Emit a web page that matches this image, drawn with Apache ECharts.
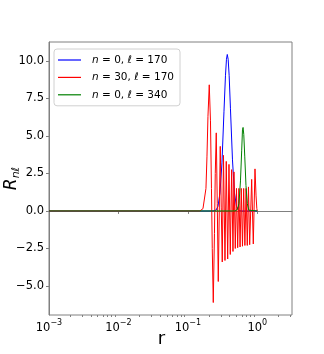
<!DOCTYPE html>
<html>
<head>
<meta charset="utf-8" />
<title>R_nl</title>
<script src="https://cdn.jsdelivr.net/npm/echarts@6/dist/echarts.min.js"></script>
<style>
  html, body { margin: 0; padding: 0; background: #fff; }
  #chart { width: 324px; height: 354px; }
</style>
</head>
<body>
<div id="chart"></div>
<script>
// quantum numbers for the three curves
var seriesN = [0, 30, 0];
var seriesL = [170, 170, 340];
var seriesColors = ['#0000ff', '#ff0000', '#008000'];

// n=0, l=170
var blueR = [0.001, 0.2300, 0.2541, 0.2715, 0.2901, 0.3099, 0.3312, 0.3481, 0.3598, 0.3695, 0.3807, 0.3935, 0.4109, 0.4391, 0.4692, 0.5015, 0.5448, 0.6018, 1.0];
var blueV = [0, 0, 0.05, 0.3, 1.2, 3.2, 6.6, 9.0, 10.1, 10.42, 10.1, 9.0, 6.8, 3.4, 1.2, 0.3, 0.03, 0, 0];

// n=30, l=170
var redR = [0.001, 0.149, 0.165, 0.1823, 0.1884, 0.1948, 0.2034, 0.2117, 0.2188, 0.2246, 0.2323,
  0.2416, 0.2481, 0.2565, 0.2652, 0.2742, 0.2834, 0.2929, 0.3028, 0.3130, 0.3258,
  0.3424, 0.3574, 0.3746, 0.3911, 0.4083, 0.4276, 0.4465, 0.4615, 0.4819, 0.5015,
  0.5220, 0.5431, 0.5651, 0.5880, 0.6118, 0.6368, 0.6626, 0.6896, 0.7176, 0.7467,
  0.7771, 0.8303, 0.8758, 0.9266, 0.96, 0.985, 1.0];
var redV = [0, 0, 0.15, 1.5, 3.6, 6.3, 8.4, 6.0, 1.5, -2.5, -6.1,
  -1.5, 2.5, 5.2, 0.5, -4.7, 0, 4.3, 0.2, -3.4, 3.7,
  -3.3, 3.3, -3.2, 3.1, -2.9, 2.75, -2.7, 2.6, -2.5, 1.5,
  -2.45, 1.5, -2.4, 1.5, -2.35, 1.5, -2.3, 1.5, -2.3, 1.6,
  -2.25, 2.1, -2.2, 2.8, 1.0, 0.15, 0];

// n=0, l=340
var greenR = [0.001, 0.4771, 0.5185, 0.5448, 0.5728, 0.5960, 0.6118, 0.6242, 0.6389, 0.6605, 0.6873, 0.7176, 0.7541, 0.7979, 1.0];
var greenV = [0, 0, 0.1, 0.5, 2.0, 4.0, 5.4, 5.56, 5.1, 3.6, 1.7, 0.5, 0.05, 0, 0];

var xTicks = [0.001, 0.01, 0.1, 1];
var xMinorTicks = [];
xTicks.forEach(function (d) {
  for (var k = 2; k <= 9; k++) xMinorTicks.push(d * k);
});
xMinorTicks.push(2, 3);
var yTicks = [-5, -2.5, 0, 2.5, 5, 7.5, 10];

function pairs(rs, vs) {
  return rs.map(function (r, i) { return [r, vs[i]]; });
}

var curves = [pairs(blueR, blueV), pairs(redR, redV), pairs(greenR, greenV)];
var names = seriesN.map(function (n, i) { return 'n=' + n + ', ℓ=' + seriesL[i]; });

var chart = echarts.init(document.getElementById('chart'));
var font = 'DejaVu Sans';
var spine = '#808080';

var option = {
  animation: false,
  textStyle: { fontFamily: font },
  grid: {
    left: 49, right: 32, top: 42, bottom: 39,
    outerBoundsMode: 'none', containLabel: false,
    show: true, borderColor: spine, borderWidth: 1
  },
  legend: {
    left: 54, top: 49, orient: 'vertical',
    icon: 'rect', itemWidth: 23, itemHeight: 1.2, itemGap: 3.4,
    padding: [4, 6, 4, 4],
    borderColor: '#d0d0d0', borderWidth: 1, borderRadius: 3,
    backgroundColor: 'rgba(255,255,255,0.8)',
    data: names,
    formatter: function (name) {
      var i = names.indexOf(name);
      return '{i|n} = ' + seriesN[i] + ', {i|ℓ} = ' + seriesL[i];
    },
    textStyle: {
      fontFamily: font, fontSize: 10.5, color: '#000', lineHeight: 14, padding: [0, 0, 0, 6],
      rich: { i: { fontFamily: font, fontSize: 10.5, lineHeight: 14, fontStyle: 'italic', color: '#000' } }
    }
  },
  xAxis: [{
    type: 'log', logBase: 10, min: 0.001, max: 3.1623,
    name: 'r', nameLocation: 'middle', nameGap: 24, nameMoveOverlap: false,
    nameTextStyle: { fontFamily: font, fontSize: 18, color: '#000', verticalAlign: 'middle', padding: [0, 18, 0, 0] },
    axisLine: { show: true, lineStyle: { color: spine, width: 1 } },
    axisTick: { show: true, length: 3, lineStyle: { color: spine }, customValues: xTicks },
    splitLine: { show: false },
    minorTick: { show: false },
    axisLabel: {
      customValues: xTicks, margin: 4, color: '#000',
      formatter: function (v) {
        var e = Math.round(Math.log10(v));
        return '{b|10}{s|' + (e < 0 ? '−' + (-e) : e) + '}';
      },
      rich: {
        b: { fontFamily: font, fontSize: 11.5, color: '#000', lineHeight: 15, verticalAlign: 'bottom' },
        s: { fontFamily: font, fontSize: 8, color: '#000', lineHeight: 15, verticalAlign: 'top' }
      }
    }
  }, {
    type: 'log', logBase: 10, min: 0.001, max: 3.1623, position: 'bottom',
    axisLine: { show: false },
    axisLabel: { show: false },
    splitLine: { show: false },
    axisTick: { show: true, length: 2, lineStyle: { color: spine }, customValues: xMinorTicks }
  }],
  yAxis: {
    type: 'value', min: -6.93, max: 11.25,
    name: '{a|R}{b|nℓ}', nameLocation: 'middle', nameGap: 37, nameRotate: 90, nameMoveOverlap: false,
    nameTextStyle: {
      color: '#000', align: 'center', verticalAlign: 'middle',
      rich: {
        a: { fontFamily: font, fontSize: 17, fontStyle: 'italic', color: '#000', lineHeight: 20 },
        b: { fontFamily: font, fontSize: 11, fontStyle: 'italic', color: '#000', lineHeight: 20, padding: [8, 0, 0, 0] }
      }
    },
    axisLine: { show: true, lineStyle: { color: spine, width: 1 } },
    axisTick: { show: true, length: 3, lineStyle: { color: spine }, customValues: yTicks },
    splitLine: { show: false },
    axisLabel: {
      customValues: yTicks, margin: 5, color: '#000', fontFamily: font, fontSize: 11.5,
      formatter: function (v) { return v.toFixed(1).replace('-', '−'); }
    }
  },
  series: curves.map(function (d, i) {
    return {
      name: names[i], type: 'line', xAxisIndex: 0, data: d,
      symbol: 'none', showSymbol: false,
      lineStyle: { color: seriesColors[i], width: 1 },
      itemStyle: { color: seriesColors[i] }
    };
  })
};
chart.setOption(option);
window.onresize = function () { chart.resize(); };
</script>
</body>
</html>
